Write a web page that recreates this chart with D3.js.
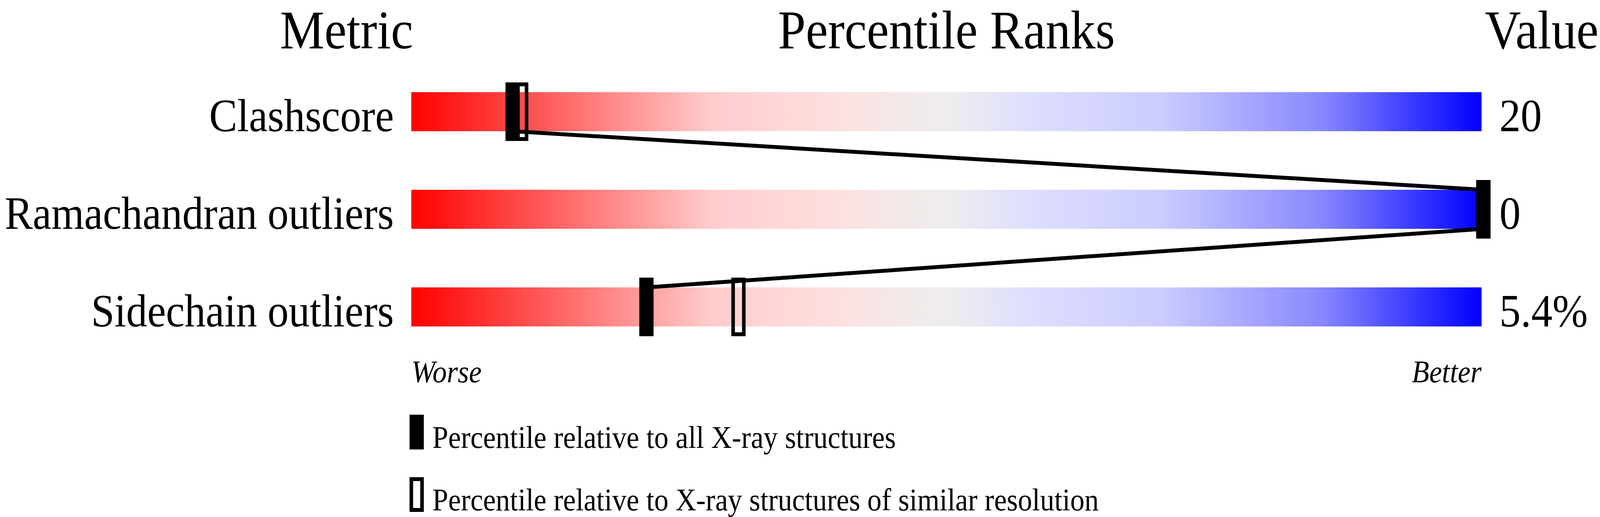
<!DOCTYPE html>
<html>
<head>
<meta charset="utf-8">
<script src="https://cdn.jsdelivr.net/npm/d3@7"></script>
<style>
  html, body { margin: 0; padding: 0; background: #fff; overflow: hidden; }
  svg { display: block; }
  text { font-family: "Liberation Serif", "Times New Roman", serif; fill: #000; }
</style>
</head>
<body>
<svg id="chart"></svg>
<script>
// values
const metrics = ['Clashscore', 'Ramachandran outliers', 'Sidechain outliers'];
const metricValues = ['20', '0', '5.4%'];
const pctAll = [9.3, 100, 21.8];       // percentile vs all X-ray structures
const pctSimilar = [10.1, 100, 30.4];  // percentile vs similar resolution
const headers = ['Metric', 'Percentile Ranks', 'Value'];
const legendLabels = [
  'Percentile relative to all X-ray structures',
  'Percentile relative to X-ray structures of similar resolution'
];

const width = 4485, height = 1324;

// draw in a fixed 4485x1324 space and stretch the viewBox over the window
const svg = d3.select('#chart')
  .attr('viewBox', `0 0 ${width} ${height}`)
  .attr('preserveAspectRatio', 'none')
  .style('width', '100vw')
  .style('height', '100vh');

svg.append('rect').attr('width', width).attr('height', height).attr('fill', '#fff');

// red -> grey -> blue slider gradient
const grad = svg.append('defs').append('linearGradient')
  .attr('id', 'slider')
  .attr('x1', '0%').attr('x2', '100%').attr('y1', '0%').attr('y2', '0%');

[[0, '#ff0000'], [0.28, '#ffcccc'], [0.38, '#ffdddd'], [0.5, '#eeeeee'],
 [0.58, '#ddddff'], [0.7, '#ccccff'], [0.85, '#8888ff'], [1, '#0000ff']]
  .forEach(([o, c]) => grad.append('stop').attr('offset', o).attr('stop-color', c));

const x = d3.scaleLinear().domain([0, 100]).range([1153, 4153]);
const y = d3.scalePoint().domain(metrics).range([286, 786]);
const barH = 100;

// headers (baseline low enough that the text box stays inside the frame)
const headY = 124;
svg.append('text').attr('x', 1158).attr('y', headY).attr('text-anchor', 'end')
  .attr('font-size', 140).text(headers[0]);
svg.append('text').attr('x', (x(0) + x(100)) / 2).attr('y', headY).attr('text-anchor', 'middle')
  .attr('font-size', 140).text(headers[1]);
svg.append('text').attr('x', 4481).attr('y', headY).attr('text-anchor', 'end')
  .attr('font-size', 140).text(headers[2]);

// bars
svg.selectAll('.bar')
  .data(metrics)
  .join('rect')
  .attr('class', 'bar')
  .attr('x', x(0))
  .attr('y', d => y(d) - barH / 2)
  .attr('width', x(100) - x(0))
  .attr('height', barH)
  .attr('fill', 'url(#slider)');

// metric names and values
svg.selectAll('.label')
  .data(metrics)
  .join('text')
  .attr('class', 'label')
  .attr('x', 1104)
  .attr('y', d => y(d) + 50)
  .attr('text-anchor', 'end')
  .attr('font-size', 118)
  .text(d => d);

svg.selectAll('.value')
  .data(metricValues)
  .join('text')
  .attr('class', 'value')
  .attr('x', 4203)
  .attr('y', (d, i) => y(metrics[i]) + 50)
  .attr('font-size', 119)
  .text(d => d);

// connecting line through the "all structures" markers
const pts = [];
metrics.forEach((m, i) => {
  const cx = x(pctAll[i]) + 5;
  if (i > 0) pts.push([cx, y(m) - barH / 2]);
  if (i < metrics.length - 1) pts.push([cx, y(m) + barH / 2]);
});
svg.append('path')
  .attr('d', d3.line()(pts))
  .attr('fill', 'none')
  .attr('stroke', '#000')
  .attr('stroke-width', 10);

// markers
svg.selectAll('.similar')
  .data(pctSimilar)
  .join('rect')
  .attr('class', 'similar')
  .attr('x', d => x(d) - 10)
  .attr('y', (d, i) => y(metrics[i]) - 70)
  .attr('width', 30)
  .attr('height', 140)
  .attr('fill', 'none')
  .attr('stroke', '#000')
  .attr('stroke-width', 10);

svg.selectAll('.all')
  .data(pctAll)
  .join('rect')
  .attr('class', 'all')
  .attr('x', d => x(d) - 15)
  .attr('y', (d, i) => y(metrics[i]) - 75)
  .attr('width', 40)
  .attr('height', 150)
  .attr('fill', '#000');

// worse / better
svg.append('text').attr('x', x(0)).attr('y', 979)
  .attr('font-size', 80).attr('font-style', 'italic').text('Worse');
svg.append('text').attr('x', x(100)).attr('y', 979).attr('text-anchor', 'end')
  .attr('font-size', 80).attr('font-style', 'italic').text('Better');

// legend
const lg = svg.append('g').attr('transform', 'translate(1148,1062)');
lg.append('rect').attr('x', 0).attr('y', 0).attr('width', 40).attr('height', 89).attr('fill', '#000');
lg.append('rect').attr('x', 5).attr('y', 165).attr('width', 30).attr('height', 79)
  .attr('fill', 'none').attr('stroke', '#000').attr('stroke-width', 10);
lg.selectAll('.leg')
  .data(legendLabels)
  .join('text')
  .attr('class', 'leg')
  .attr('x', 64)
  .attr('y', (d, i) => 85 + i * 160)
  .attr('font-size', 80)
  .text(d => d);
</script>
</body>
</html>
